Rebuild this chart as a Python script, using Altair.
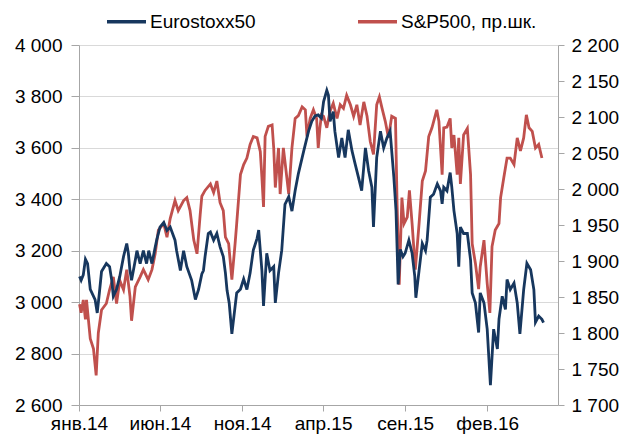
import altair as alt
import pandas as pd

esx_dates = [
    "2014-01-02","2014-01-05","2014-01-09","2014-01-13","2014-01-17","2014-01-22","2014-01-31",
    "2014-02-04","2014-02-08","2014-02-12","2014-02-21","2014-02-27","2014-03-03","2014-03-06",
    "2014-03-12","2014-03-18","2014-03-25","2014-03-31","2014-04-03","2014-04-06","2014-04-09",
    "2014-04-16","2014-04-19","2014-04-25","2014-05-01","2014-05-07","2014-05-11","2014-05-17",
    "2014-05-23","2014-05-26","2014-06-01","2014-06-08","2014-06-14","2014-06-20","2014-06-29",
    "2014-07-02","2014-07-09","2014-07-15","2014-07-21","2014-07-30","2014-08-06","2014-08-12",
    "2014-08-18","2014-08-21","2014-08-24","2014-08-30","2014-09-03","2014-09-09","2014-09-15",
    "2014-09-21","2014-09-27","2014-10-01","2014-10-04","2014-10-08","2014-10-13","2014-10-16",
    "2014-10-22","2014-10-29","2014-11-04","2014-11-10","2014-11-16","2014-11-22","2014-11-29",
    "2014-12-02","2014-12-05","2014-12-08","2014-12-11","2014-12-17","2014-12-23","2014-12-30",
    "2015-01-02","2015-01-08","2015-01-14","2015-01-20","2015-01-27","2015-02-02","2015-02-08",
    "2015-02-14","2015-02-24","2015-03-05","2015-03-11","2015-03-17","2015-03-23","2015-03-29",
    "2015-04-02","2015-04-08","2015-04-11","2015-04-14","2015-04-20","2015-04-23","2015-04-30",
    "2015-05-06","2015-05-12","2015-05-18","2015-05-25","2015-05-31","2015-06-06","2015-06-12",
    "2015-06-19","2015-06-25","2015-07-01","2015-07-04","2015-07-10","2015-07-17","2015-07-23",
    "2015-07-29","2015-08-04","2015-08-11","2015-08-15","2015-08-19","2015-08-23","2015-08-28",
    "2015-09-01","2015-09-08","2015-09-14","2015-09-19","2015-09-21","2015-09-27","2015-10-03",
    "2015-10-09","2015-10-12","2015-10-18","2015-10-24","2015-10-31","2015-11-06","2015-11-09",
    "2015-11-12","2015-11-18","2015-11-24","2015-11-27","2015-12-01","2015-12-07","2015-12-10",
    "2015-12-13","2015-12-19","2015-12-26","2016-01-01","2016-01-04","2016-01-10","2016-01-16",
    "2016-01-19","2016-01-26","2016-02-01","2016-02-07","2016-02-13","2016-02-20","2016-02-23",
    "2016-02-29","2016-03-06","2016-03-09","2016-03-15","2016-03-22","2016-03-28","2016-04-02",
    "2016-04-09","2016-04-15","2016-04-22","2016-04-28","2016-05-01","2016-05-07","2016-05-13",
    "2016-05-16",
]
esx_values = [
    3100,3085,3106,3167,3150,3050,3010,
    2958,3036,3119,3150,3138,3085,3023,
    3050,3100,3177,3228,3190,3123,3085,
    3164,3200,3150,3200,3150,3200,3150,
    3213,3243,3292,3310,3279,3292,3241,
    3200,3123,3200,3138,3085,3010,3050,
    3110,3123,3177,3267,3273,3241,3267,
    3215,3177,3113,3046,2997,2877,2930,
    3036,3050,3090,3049,3113,3203,3248,
    3280,3200,3123,2985,3190,3123,3138,
    2997,3113,3202,3380,3410,3354,3434,
    3500,3588,3665,3703,3724,3728,3715,
    3780,3824,3805,3703,3741,3665,3562,
    3638,3562,3670,3588,3536,3485,3434,
    3600,3510,3447,3292,3562,3665,3600,
    3638,3665,3485,3356,3069,3205,3177,
    3190,3241,3190,3100,3017,3123,3228,
    3200,3241,3408,3420,3460,3433,3382,
    3447,3433,3504,3447,3356,3267,3138,
    3292,3267,3267,3164,3036,2997,2882,
    3036,2997,2895,2677,2895,2818,2934,
    3023,2972,3088,3049,3074,2997,2877,
    3049,3151,3126,3049,2922,2946,2933,
    2920,
]

spx_dates = [
    "2014-01-02","2014-01-05","2014-01-09","2014-01-13","2014-01-15","2014-01-22","2014-01-28",
    "2014-02-02","2014-02-06","2014-02-12","2014-02-21","2014-02-27","2014-03-06","2014-03-12",
    "2014-03-18","2014-03-25","2014-03-31","2014-04-06","2014-04-09","2014-04-16","2014-04-25",
    "2014-05-01","2014-05-10","2014-05-17","2014-05-23","2014-05-29","2014-06-08","2014-06-14",
    "2014-06-20","2014-06-29","2014-07-05","2014-07-15","2014-07-21","2014-07-27","2014-08-03",
    "2014-08-09","2014-08-15","2014-08-18","2014-08-24","2014-09-03","2014-09-09","2014-09-15",
    "2014-09-21","2014-09-27","2014-10-01","2014-10-07","2014-10-13","2014-10-19","2014-10-22",
    "2014-10-29","2014-11-04","2014-11-10","2014-11-16","2014-11-22","2014-11-29","2014-12-05",
    "2014-12-08","2014-12-11","2014-12-14","2014-12-20","2014-12-27","2014-12-30","2015-01-02",
    "2015-01-08","2015-01-11","2015-01-17","2015-01-20","2015-01-27","2015-02-02","2015-02-08",
    "2015-02-14","2015-02-21","2015-02-27","2015-03-02","2015-03-08","2015-03-14","2015-03-20",
    "2015-03-23","2015-03-26","2015-03-29","2015-04-02","2015-04-08","2015-04-14","2015-04-20",
    "2015-04-27","2015-05-03","2015-05-09","2015-05-15","2015-05-22","2015-05-28","2015-06-03",
    "2015-06-09","2015-06-16","2015-06-22","2015-06-28","2015-07-04","2015-07-10","2015-07-15",
    "2015-07-20","2015-07-26","2015-08-01","2015-08-07","2015-08-14","2015-08-17","2015-08-21",
    "2015-08-26","2015-08-30","2015-09-05","2015-09-09","2015-09-14","2015-09-20","2015-09-27",
    "2015-10-03","2015-10-09","2015-10-15","2015-10-21","2015-10-30","2015-11-03","2015-11-06",
    "2015-11-09","2015-11-12","2015-11-18","2015-11-24","2015-11-27","2015-12-01","2015-12-07",
    "2015-12-10","2015-12-13","2015-12-19","2015-12-26","2016-01-01","2016-01-04","2016-01-10",
    "2016-01-16","2016-01-19","2016-01-26","2016-02-01","2016-02-06","2016-02-10","2016-02-16",
    "2016-02-23","2016-02-26","2016-03-03","2016-03-09","2016-03-15","2016-03-22","2016-03-28",
    "2016-04-03","2016-04-09","2016-04-14","2016-04-19","2016-04-25","2016-05-01","2016-05-07",
    "2016-05-13",
]
spx_values = [
    1840,1828,1846,1819,1846,1792,1778,
    1741,1800,1832,1841,1860,1878,1841,
    1873,1860,1888,1851,1817,1864,1878,
    1888,1874,1888,1910,1943,1952,1933,
    1959,1984,1970,1984,1988,1970,1929,
    1910,1965,1990,1998,2007,1995,2011,
    1981,1970,1933,1924,1874,1924,1952,
    2020,2034,2043,2062,2073,2071,2052,
    2016,1975,2073,2087,2089,2057,2002,
    2057,1993,2057,2038,1993,2057,2098,
    2102,2114,2110,2073,2098,2110,2098,
    2057,2084,2103,2101,2085,2108,2119,
    2098,2117,2112,2130,2117,2101,2117,
    2089,2121,2101,2066,2048,2117,2128,
    2112,2094,2071,2101,2098,1979,1867,
    1988,1952,1961,1998,1952,1888,1952,
    2011,2025,2073,2085,2110,2094,2057,
    2020,2085,2086,2098,2057,2075,2020,
    2071,2007,2075,2084,2020,1924,1897,
    1861,1892,1929,1869,1828,1920,1943,
    1952,1988,2016,2043,2043,2034,2071,
    2053,2071,2103,2085,2080,2057,2062,
    2043,
]

series_names = ["Eurostoxx50", "S&P500, пр.шк."]
series_colors = ["#17375E", "#C0504D"]
left_ticks = [2600, 2800, 3000, 3200, 3400, 3600, 3800, 4000]
right_ticks = [1700, 1750, 1800, 1850, 1900, 1950, 2000, 2050, 2100, 2150, 2200]
month_names = ["янв", "фев", "мар", "апр", "май", "июн", "июл", "авг", "сен", "окт", "ноя", "дек"]
x_tick_dates = [(2014, 1), (2014, 6), (2014, 11), (2015, 4), (2015, 9), (2016, 2)]

df_esx = pd.DataFrame({"date": esx_dates, "value": esx_values, "series": series_names[0]})
df_spx = pd.DataFrame({"date": spx_dates, "value": spx_values, "series": series_names[1]})

FONT = "Liberation Sans"
AX = "#A6A6A6"
month_arr = "[" + ",".join("'" + m + "'" for m in month_names) + "]"

x_enc = alt.X(
    "date:T",
    scale=alt.Scale(
        type="utc",
        domain=[alt.DateTime(year=2014, month=1, date=1, utc=True),
                alt.DateTime(year=2016, month=6, date=12, utc=True)],
    ),
    axis=alt.Axis(
        values=[alt.DateTime(year=y, month=m, date=1, utc=True) for y, m in x_tick_dates],
        labelExpr=month_arr + "[utcmonth(datum.value)] + '.' + utcFormat(datum.value, '%y')",
        title=None, grid=False, domainColor=AX, tickColor=AX, tickSize=6,
        labelPadding=3, labelFontSize=19, labelFont=FONT, labelColor="#000000",
        labelFlush=False, labelOverlap=False,
    ),
)

color_enc = alt.Color(
    "series:N",
    scale=alt.Scale(domain=series_names, range=series_colors),
    legend=alt.Legend(
        orient="none", legendX=26, legendY=-45, direction="horizontal", title=None,
        symbolType="stroke", symbolSize=1521, symbolStrokeWidth=3.5,
        labelFontSize=19, labelFont=FONT, labelColor="#000000", labelOffset=2,
        columnPadding=95, labelLimit=400,
    ),
)

fmt = "replace(format(datum.value, ',d'), ',', ' ')"

esx = alt.Chart(df_esx).mark_line(strokeWidth=2.8).encode(
    x=x_enc,
    y=alt.Y(
        "value:Q",
        scale=alt.Scale(domain=[2600, 4000], nice=False, zero=False),
        axis=alt.Axis(
            orient="left", values=left_ticks, labelExpr=fmt, title=None,
            grid=True, gridColor="#D9D9D9", gridWidth=1.2,
            domainColor=AX, tickColor=AX, tickSize=8, labelPadding=9,
            labelFontSize=19, labelFont=FONT, labelColor="#000000",
        ),
    ),
    color=color_enc,
)

spx = alt.Chart(df_spx).mark_line(strokeWidth=2.8).encode(
    x=x_enc,
    y=alt.Y(
        "value:Q",
        scale=alt.Scale(domain=[1700, 2200], nice=False, zero=False),
        axis=alt.Axis(
            orient="right", values=right_ticks, labelExpr=fmt, title=None,
            grid=False, domainColor=AX, tickColor=AX, tickSize=6, labelPadding=7,
            labelFontSize=19, labelFont=FONT, labelColor="#000000",
        ),
    ),
    color=color_enc,
)

chart = (
    alt.layer(spx, esx)
    .resolve_scale(y="independent")
    .properties(
        width=479, height=360,
        autosize=alt.AutoSizeParams(type="none"),
        padding={"left": 71, "top": 37, "right": 61, "bottom": 30},
    )
    .configure_view(stroke=None)
)

chart.save("out.html", embed_options={"renderer": "svg", "actions": False})
